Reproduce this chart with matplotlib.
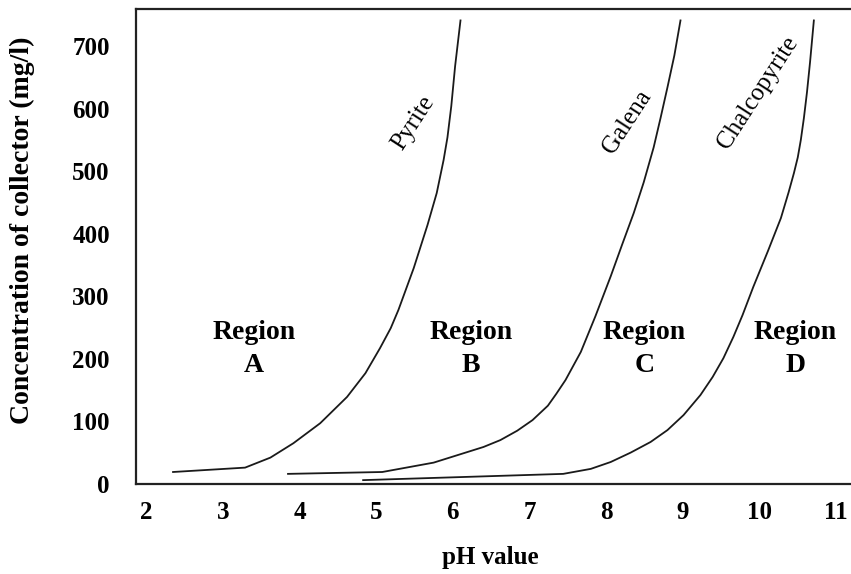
import matplotlib.pyplot as plt

# collector concentration (mg/l) vs pH boundaries for each mineral
pyrite_ph = [2.35, 3.29, 3.62, 3.92, 4.27, 4.62, 4.86, 5.05, 5.19, 5.29, 5.49,
             5.67, 5.79, 5.88, 5.93, 5.98, 6.03, 6.10]
pyrite_conc = [19, 26, 42, 65, 97, 139, 177, 217, 249, 278, 345,
               414, 465, 518, 554, 604, 668, 741]

galena_ph = [3.85, 5.08, 5.75, 6.40, 6.62, 6.84, 7.04, 7.24, 7.35, 7.47, 7.67,
             7.86, 8.06, 8.21, 8.36, 8.49, 8.62, 8.71, 8.80, 8.89, 8.97]
galena_conc = [16, 19, 34, 59, 70, 85, 102, 125, 144, 166, 211,
               268, 332, 383, 433, 482, 538, 585, 634, 685, 741]

chalco_ph = [4.83, 7.44, 7.80, 8.06, 8.32, 8.58, 8.80, 9.01, 9.23, 9.39, 9.53,
             9.66, 9.78, 9.92, 10.11, 10.28, 10.38, 10.45, 10.50, 10.54, 10.58,
             10.62, 10.66, 10.71]
chalco_conc = [6, 16, 24, 35, 50, 67, 86, 110, 142, 171, 201,
               235, 270, 315, 372, 425, 466, 497, 522, 550, 585,
               626, 674, 741]

curve_labels = ['Pyrite', 'Galena', 'Chalcopyrite']
curve_label_pos = [(5.49, 577), (8.28, 578), (9.98, 625)]

region_names = ['Region\nA', 'Region\nB', 'Region\nC', 'Region\nD']
region_ph = [3.41, 6.24, 8.50, 10.47]
region_conc = 216

x_ticks = [2, 3, 4, 5, 6, 7, 8, 9, 10, 11]
y_ticks = [0, 100, 200, 300, 400, 500, 600, 700]

plt.rcParams['font.family'] = ['Liberation Serif', 'DejaVu Serif']

fig = plt.figure(figsize=(8.51, 5.74), dpi=100)
ax = fig.add_axes([0.160, 0.157, 0.845, 0.827])

for xs, ys in [(pyrite_ph, pyrite_conc), (galena_ph, galena_conc), (chalco_ph, chalco_conc)]:
    ax.plot(xs, ys, color='#1a1a1a', lw=1.3, solid_joinstyle='round')

for lab, (x, y) in zip(curve_labels, curve_label_pos):
    ax.text(x, y, lab, rotation=57, ha='center', va='center', fontsize=18)

for name, x in zip(region_names, region_ph):
    ax.text(x, region_conc, name, ha='center', va='center', fontsize=20,
            fontweight='bold', linespacing=1.4)

ax.set_xlim(1.869, 11.25)
ax.set_ylim(0, 759)
ax.set_xticks(x_ticks)
ax.set_yticks(y_ticks)
ax.tick_params(length=0, labelsize=18)
ax.tick_params(axis='x', pad=12)
ax.tick_params(axis='y', pad=19)
for t in ax.get_xticklabels() + ax.get_yticklabels():
    t.set_fontweight('bold')

ax.spines['right'].set_visible(False)
for s in ['left', 'top', 'bottom']:
    ax.spines[s].set_linewidth(1.6)
    ax.spines[s].set_color('#222222')

ax.set_xlabel('pH value', fontsize=18, fontweight='bold')
ax.set_ylabel('Concentration of collector (mg/l)', fontsize=20, fontweight='bold')
ax.xaxis.set_label_coords(0.492, -0.155)
ax.xaxis.label.set_verticalalignment('center')
ax.yaxis.set_label_coords(-0.1585, 0.535)
ax.yaxis.label.set_verticalalignment('center')

fig.savefig('out.png', dpi=100)
